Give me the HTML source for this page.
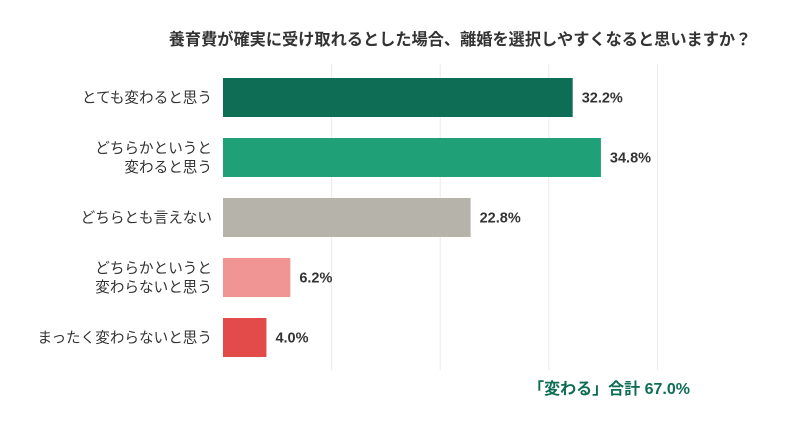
<!DOCTYPE html>
<html><head><meta charset="utf-8"><style>
body{margin:0;background:#fff;width:790px;height:429px;overflow:hidden;font-family:"Liberation Sans","Noto Sans CJK JP",sans-serif;}
</style></head><body>
<svg width="790" height="429" id="c" style="font-family:'Liberation Sans','Noto Sans CJK JP',sans-serif">
<text x="460" y="45" text-anchor="middle" font-size="16.2" font-weight="bold" fill="#333">養育費が確実に受け取れるとした場合、離婚を選択しやすくなると思いますか？</text>
<g id="grid"></g><g id="bars"></g>
<text x="690" y="394" text-anchor="end" font-size="16" fill="#0e6e55" font-weight="bold">「変わる」合計 67.0%</text>
</svg>
<script>
const categories=[["とても変わると思う"],["どちらかというと","変わると思う"],["どちらとも言えない"],["どちらかというと","変わらないと思う"],["まったく変わらないと思う"]];
const values=[32.2,34.8,22.8,6.2,4.0];
const colors=["#0e6e55","#1fa077","#b5b3aa","#f09494","#e34a4a"];
const gridTicks=[10,20,30,40];
const ns="http://www.w3.org/2000/svg";
const x0=223,pxPer=10.86,barTop=78,pitch=60,bh=39;
const xs=v=>x0+v*pxPer;
const g=document.getElementById('grid'),b=document.getElementById('bars');
function el(t,a,p){const e=document.createElementNS(ns,t);for(const k in a)e.setAttribute(k,a[k]);p.appendChild(e);return e;}
gridTicks.forEach(t=>{const l=el('line',{x1:xs(t),x2:xs(t),y1:64,y2:370,stroke:'#ebebeb','stroke-width':1},g);

});
values.forEach((v,i)=>{const y=barTop+i*pitch;
const r=el('rect',{x:x0,y:y,width:v*pxPer,height:bh,fill:colors[i]},b);


const t=el('text',{x:xs(v)+9,y:y+bh/2+5,'font-size':14.5,fill:'#333','font-weight':'bold'},b);t.textContent=v.toFixed(1)+'%';


const lines=categories[i];
lines.forEach((s,j)=>{const ly=y+bh/2+5+(j-(lines.length-1)/2)*19;
const c=el('text',{x:212,y:ly,'text-anchor':'end','font-size':14.6,fill:'#333'},b);c.textContent=s;

});
});
</script>
</body></html>
